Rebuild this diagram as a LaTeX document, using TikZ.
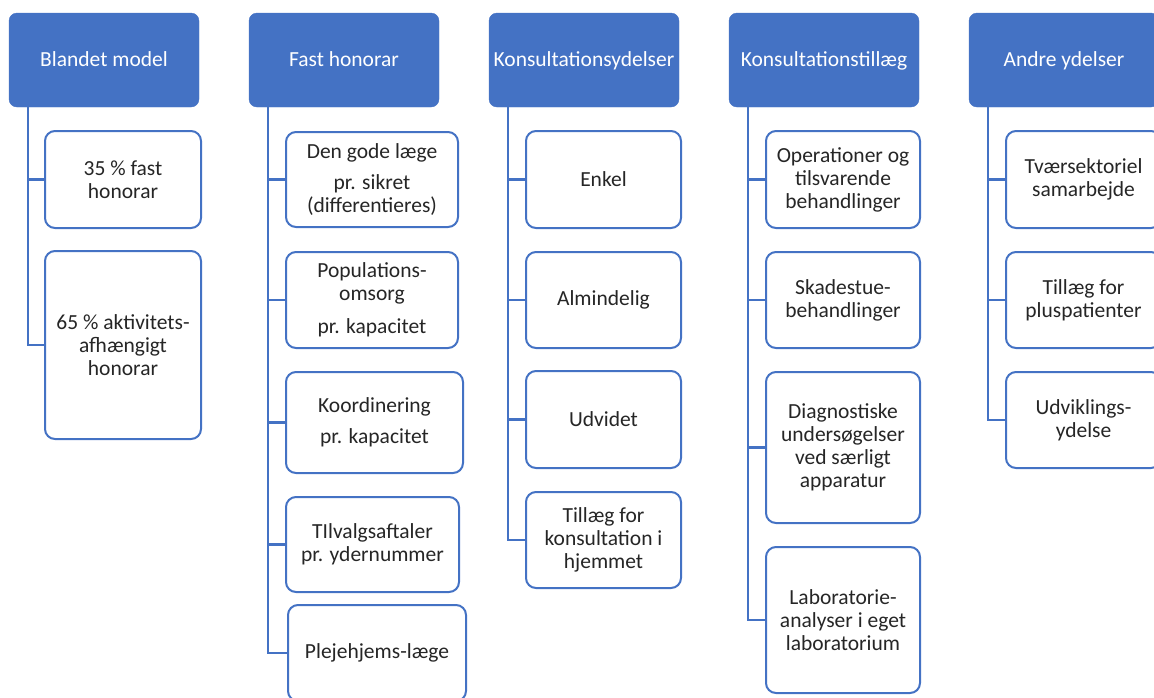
\documentclass[tikz,border=0pt]{standalone}
\usepackage{fontspec}
\setmainfont{Carlito}
\definecolor{oblue}{HTML}{4472C4}
\definecolor{otext}{HTML}{262626}
\tikzset{
  head/.style={fill=oblue, draw=oblue, rounded corners=8pt, minimum width=190pt, minimum height=94pt,
    inner sep=0pt, text=white, font=\fontsize{21.5}{23}\selectfont, align=center,
    text height=13.8pt, text depth=0pt},
  kid/.style 2 args={draw=oblue, line width=2pt, fill=white, rounded corners=10pt,
    minimum width=#1pt, minimum height=#2pt, inner sep=0pt, text=otext,
    font=\fontsize{21.5}{23}\selectfont, align=center},
  trunk/.style={draw=oblue, line width=2.2pt}
}
\begin{document}
\begin{tikzpicture}[x=1pt,y=-1pt]
\useasboundingbox (0,0) rectangle (1154,697);
\clip (0,0) rectangle (1154,697);
% headers
\node[head] (h1) at (104,60) {Blandet model};
\node[head] (h2) at (344,60) {Fast honorar};
\node[head] (h3) at (584,60) {Konsultationsydelser};
\node[head] (h4) at (824,60) {Konsultationstillæg};
\node[head] (h5) at (1064,60) {Andre ydelser};
% column 1
\node[kid={156}{97}] (a1) at (123,179.5) {35 \% fast\\honorar};
\node[kid={156}{188}] (a2) at (123,345) {65 \% aktivitets-\\afhængigt\\honorar};
% column 2
\node[kid={172}{95}] (b1) at (372,179.5) {Den gode læge\\[8pt]pr. sikret\\(differentieres)};
\node[kid={172}{96}] (b2) at (372,300) {Populations-\\omsorg\\[10pt]pr. kapacitet};
\node[kid={177}{101}] (b3) at (374.5,422.5) {Koordinering\\[8pt]pr. kapacitet};
\node[kid={173}{95}] (b4) at (372.5,544.5) {TIlvalgsaftaler\\pr. ydernummer};
\node[kid={178}{96}] (b5) at (377,653) {Plejehjems-læge};
% column 3
\node[kid={155}{97}] (c1) at (603.5,179.5) {Enkel};
\node[kid={155}{96}] (c2) at (603.5,300) {Almindelig};
\node[kid={155}{97}] (c3) at (603.5,419.5) {Udvidet};
\node[kid={155}{96}] (c4) at (603.5,540) {Tillæg for\\konsultation i\\hjemmet};
% column 4
\node[kid={154}{97}] (d1) at (843,179.5) {Operationer og\\tilsvarende\\behandlinger};
\node[kid={154}{96}] (d2) at (843,300) {Skadestue-\\behandlinger};
\node[kid={154}{151}] (d3) at (843,447.5) {Diagnostiske\\undersøgelser\\ved særligt\\apparatur};
\node[kid={154}{146}] (d4) at (843,620) {Laboratorie-\\analyser i eget\\laboratorium};
% column 5
\node[kid={155}{97}] (e1) at (1083.5,179.5) {Tværsektoriel\\samarbejde};
\node[kid={155}{96}] (e2) at (1083.5,300) {Tillæg for\\pluspatienter};
\node[kid={155}{96}] (e3) at (1083.5,420) {Udviklings-\\ydelse};
% connectors
\foreach \c in {a1,a2} \draw[trunk] ([xshift=19pt]h1.south west) |- (\c.west);
\foreach \c in {b1,b2,b3,b4,b5} \draw[trunk] ([xshift=19pt]h2.south west) |- (\c.west);
\foreach \c in {c1,c2,c3,c4} \draw[trunk] ([xshift=19pt]h3.south west) |- (\c.west);
\foreach \c in {d1,d2,d3,d4} \draw[trunk] ([xshift=19pt]h4.south west) |- (\c.west);
\foreach \c in {e1,e2,e3} \draw[trunk] ([xshift=19pt]h5.south west) |- (\c.west);
\end{tikzpicture}
\end{document}
